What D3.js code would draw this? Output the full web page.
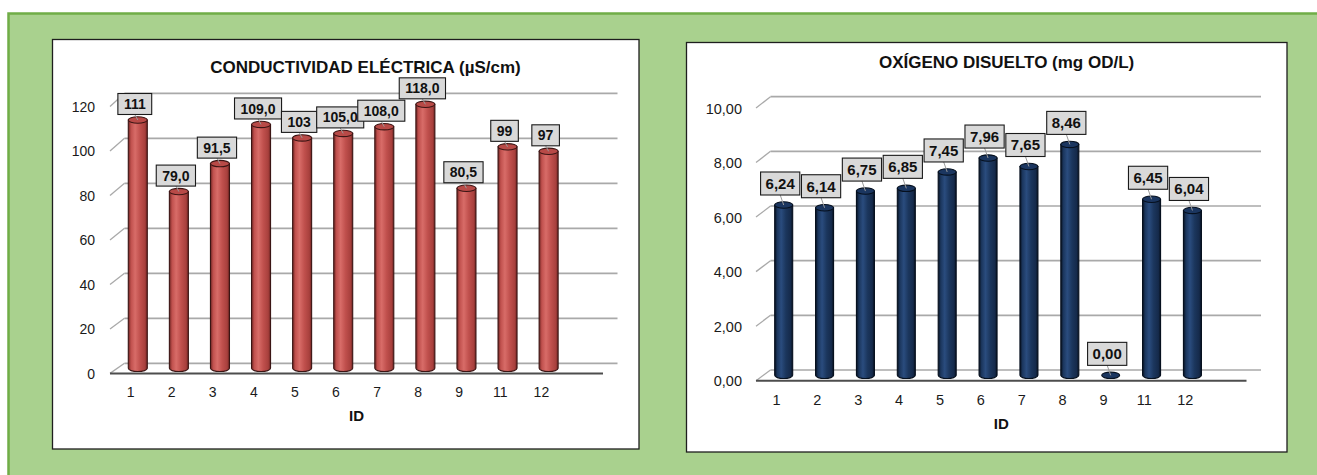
<!DOCTYPE html>
<html>
<head>
<meta charset="utf-8">
<script src="https://cdn.jsdelivr.net/npm/d3@7"></script>
<style>
  html, body { margin: 0; padding: 0; background: #ffffff; }
  svg { display: block; }
  text { font-family: "Liberation Sans", Arial, sans-serif; }
</style>
</head>
<body>
<svg id="fig" width="1317" height="475"></svg>
<script>
// Sampling point IDs shared by both panels
const stationIds = ["1", "2", "3", "4", "5", "6", "7", "8", "9", "11", "12"];

// Electrical conductivity (µS/cm) and the number of decimals shown in each label
const conductivity = [111, 79.0, 91.5, 109.0, 103, 105.0, 108.0, 118.0, 80.5, 99, 97];
const conductivityDecimals = [0, 1, 1, 1, 0, 1, 1, 1, 1, 0, 0];
const conductivityTicks = [0, 20, 40, 60, 80, 100, 120];

// Dissolved oxygen (mg OD/L)
const dissolvedOxygen = [6.24, 6.14, 6.75, 6.85, 7.45, 7.96, 7.65, 8.46, 0.00, 6.45, 6.04];
const oxygenTicks = [0, 2, 4, 6, 8, 10];

// Spanish-style number formatting (decimal comma)
const esLocale = d3.formatLocale({ decimal: ",", thousands: ".", grouping: [3], currency: ["", " €"] });
const fmt = n => esLocale.format("." + n + "f");

const svg = d3.select("#fig");
const defs = svg.append("defs");

// Outer green panel
svg.append("rect")
  .attr("x", 8.5).attr("y", 13.5).attr("width", 1330).attr("height", 480)
  .attr("fill", "#a9d18e").attr("stroke", "#70ad47").attr("stroke-width", 2.5);

function cylinderGradient(id, dark, base, light, darkRight) {
  const g = defs.append("linearGradient").attr("id", id)
    .attr("x1", "0%").attr("x2", "100%").attr("y1", "0%").attr("y2", "0%");
  [[0, dark], [0.14, base], [0.36, light], [0.62, base], [0.88, darkRight], [1, dark]]
    .forEach(([o, c]) => g.append("stop").attr("offset", o).attr("stop-color", c));
}
cylinderGradient("gradRed", "#6e2422", "#c0504d", "#d86c68", "#a8403d");
cylinderGradient("gradNavy", "#07111f", "#1b365d", "#2a4c7e", "#152a4b");

function drawChart(cfg) {
  const g = svg.append("g");

  // Chart area box
  g.append("rect")
    .attr("x", cfg.box[0]).attr("y", cfg.box[1])
    .attr("width", cfg.box[2]).attr("height", cfg.box[3])
    .attr("fill", "#ffffff").attr("stroke", "#1e1e1e").attr("stroke-width", 1.3);

  g.append("text")
    .attr("x", cfg.titleX).attr("y", cfg.titleY)
    .attr("text-anchor", "middle")
    .attr("font-size", 17).attr("font-weight", "bold").attr("fill", "#111")
    .text(cfg.title);

  const maxV = cfg.ticks[cfg.ticks.length - 1];
  const n = cfg.ids.length;
  const slot = (cfg.x1 - cfg.x0) / (n + 1);   // floor keeps one empty slot on the right

  const x = d3.scaleBand().domain(cfg.ids).range([cfg.x0, cfg.x0 + slot * n]);
  const yFront = d3.scaleLinear().domain([0, maxV]).range(cfg.frontRange);
  const yBack = d3.scaleLinear().domain([0, maxV]).range(cfg.backRange);
  const yMid = d3.scaleLinear().domain([0, maxV])
    .range([(cfg.frontRange[0] + cfg.backRange[0]) / 2, (cfg.frontRange[1] + cfg.backRange[1]) / 2]);
  const dx = cfg.depthX;

  // Back-wall gridlines and side-wall diagonals
  const grid = g.append("g");
  cfg.ticks.forEach(t => {
    grid.append("line")
      .attr("x1", cfg.x0 + dx).attr("x2", cfg.x1 + dx)
      .attr("y1", yBack(t)).attr("y2", yBack(t))
      .attr("stroke", "#a9a9a9").attr("stroke-width", 1.7);
    grid.append("line")
      .attr("x1", cfg.x0).attr("y1", yFront(t))
      .attr("x2", cfg.x0 + dx).attr("y2", yBack(t))
      .attr("stroke", "#a9a9a9").attr("stroke-width", 1.3);
  });

  // Front floor edge (category axis line)
  g.append("line")
    .attr("x1", cfg.x0).attr("x2", cfg.x1)
    .attr("y1", yFront(0)).attr("y2", yFront(0))
    .attr("stroke", "#4d4d4d").attr("stroke-width", 2);

  // Value axis labels
  const yAxis = d3.axisLeft(yFront).tickValues(cfg.ticks).tickSize(0).tickPadding(0)
    .tickFormat(cfg.tickFormat);
  const yAx = g.append("g").attr("transform", `translate(${cfg.yLabelRight},0)`).call(yAxis);
  yAx.select(".domain").remove();
  yAx.selectAll("text").attr("font-size", cfg.axisFont).attr("fill", "#1a1a1a")
    .attr("dy", "0.36em")
    .attr("font-family", "'Liberation Sans', Arial, sans-serif");

  // Category axis labels (centred vertically on xLabelY)
  const xAxis = d3.axisBottom(x).tickSize(0).tickPadding(0);
  const xAx = g.append("g").attr("transform", `translate(0,${cfg.xLabelY})`).call(xAxis);
  xAx.select(".domain").remove();
  xAx.selectAll("text").attr("font-size", cfg.axisFont).attr("fill", "#1a1a1a")
    .attr("y", 0).attr("dy", "0.36em")
    .attr("font-family", "'Liberation Sans', Arial, sans-serif");

  g.append("text")
    .attr("x", (cfg.x0 + cfg.x1) / 2).attr("y", cfg.idY)
    .attr("text-anchor", "middle").attr("font-size", 15).attr("font-weight", "bold")
    .attr("fill", "#111").text("ID");

  // Cylinders
  const r = cfg.radius, ry = 3.2;
  const data = cfg.ids.map((id, i) => ({ id, v: cfg.values[i], label: cfg.labels[i] }));
  const bars = g.append("g");
  data.forEach(d => {
    const cx = x(d.id) + x.bandwidth() / 2 + dx / 2;
    const base = yMid(0), top = yMid(d.v);
    d.cx = cx; d.top = top;
    if (base - top > 0.5) {
      bars.append("path")
        .attr("d", `M${cx - r},${top} L${cx - r},${base} A${r},${ry} 0 0 0 ${cx + r},${base} L${cx + r},${top} Z`)
        .attr("fill", `url(#${cfg.gradient})`)
        .attr("stroke", cfg.outline).attr("stroke-width", 1.1);
    }
    bars.append("ellipse")
      .attr("cx", cx).attr("cy", top).attr("rx", r).attr("ry", ry)
      .attr("fill", cfg.capFill).attr("stroke", cfg.outline).attr("stroke-width", 1.1);
  });

  // Data labels with leader lines
  const lab = g.append("g");
  data.forEach(d => {
    const t = lab.append("text")
      .attr("font-size", cfg.labelFont).attr("font-weight", "bold").attr("fill", "#111")
      .attr("text-anchor", "middle").text(d.label);
    const w = t.node().getComputedTextLength() + cfg.labelPad * 2;
    const h = cfg.labelH;
    const bx = d.cx - cfg.labelShift;
    const bottom = d.top - cfg.labelGap;
    lab.insert("line", "text")
      .attr("x1", bx).attr("y1", bottom).attr("x2", d.cx).attr("y2", d.top)
      .attr("stroke", "#9a9a9a").attr("stroke-width", 1);
    lab.insert("rect", "text")
      .attr("x", bx - w / 2).attr("y", bottom - h).attr("width", w).attr("height", h)
      .attr("fill", "#d9d9d9").attr("stroke", "#1a1a1a").attr("stroke-width", 1.1);
    t.attr("x", bx).attr("y", bottom - h / 2 + cfg.labelFont * 0.36);
  });
}

drawChart({
  title: "CONDUCTIVIDAD ELÉCTRICA (µS/cm)",
  titleX: 365.5, titleY: 72.7,
  box: [52.5, 39.5, 586.5, 409.5],
  ids: stationIds,
  values: conductivity,
  labels: conductivity.map((v, i) => fmt(conductivityDecimals[i])(v)),
  ticks: conductivityTicks,
  tickFormat: d => String(d),
  x0: 110, x1: 603, depthX: 14.5,
  frontRange: [373.4, 106.4], backRange: [363.3, 93.3],
  yLabelRight: 95, xLabelY: 392, idY: 421,
  axisFont: 14, labelFont: 14, labelPad: 6, labelH: 21,
  labelGap: 5.5, labelShift: 3,
  radius: 9.5, gradient: "gradRed", capFill: "#b84a47", outline: "#3b1514"
});

drawChart({
  title: "OXÍGENO DISUELTO (mg OD/L)",
  titleX: 1006.6, titleY: 67.7,
  box: [686.5, 42.5, 600.5, 409.5],
  ids: stationIds,
  values: dissolvedOxygen,
  labels: dissolvedOxygen.map(v => fmt(2)(v)),
  ticks: oxygenTicks,
  tickFormat: d => fmt(2)(d),
  x0: 756, x1: 1246.5, depthX: 14.5,
  frontRange: [380.7, 108], backRange: [370, 96.7],
  yLabelRight: 742, xLabelY: 400, idY: 428.5,
  axisFont: 14.5, labelFont: 15, labelPad: 5, labelH: 23,
  labelGap: 10, labelShift: 3.5,
  radius: 9, gradient: "gradNavy", capFill: "#1b3660", outline: "#06101e"
});
</script>
</body>
</html>
